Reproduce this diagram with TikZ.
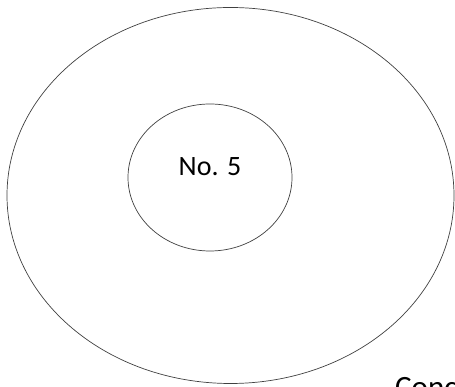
\documentclass[tikz,border=0pt]{standalone}
\usepackage{fontspec}
\setmainfont{Carlito}
\usetikzlibrary{shapes.geometric}
\tikzset{
  ring/.style={ellipse, draw=black!75, line width=0.7pt, inner sep=0pt},
  label/.style={inner sep=0pt, font=\fontsize{28}{32}\selectfont},
  cutlabel/.style={inner sep=0pt, font=\fontsize{31}{36}\selectfont}
}
\begin{document}
\begin{tikzpicture}[x=1pt,y=1pt]
\useasboundingbox (0,0) rectangle (455,387);
\clip (0,0) rectangle (455,387);
\node[ring, minimum width=447pt, minimum height=376pt] (outer) at (230.5,191.5) {};
\node[ring, minimum width=164pt, minimum height=147pt] (inner) at (210,209.5) {};
\node[label] (num) at (210,220) {No. 5};
\node[cutlabel, anchor=base west] (title) at (395,-11) {Concentric};
\end{tikzpicture}
\end{document}
